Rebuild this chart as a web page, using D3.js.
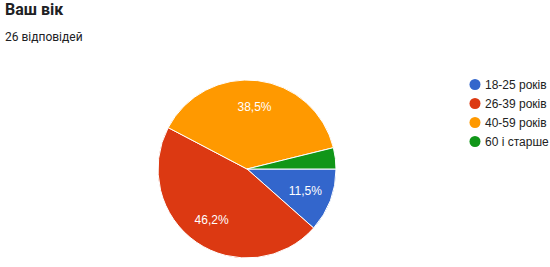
<!DOCTYPE html>
<html>
<head>
<meta charset="utf-8">
<script src="https://cdn.jsdelivr.net/npm/d3@7"></script>
<style>
  body { margin: 0; background: #fff; }
</style>
</head>
<body>
<div id="viz"></div>
<script>
// data
const title = 'Ваш вік';
const subtitle = '26 відповідей';
const categories = ['18-25 років', '26-39 років', '40-59 років', '60 і старше'];
const counts = [3, 12, 10, 1];
const colors = ['#3366cc', '#dc3912', '#ff9900', '#109618'];

const width = 550;
const height = 267;
const cx = 247;
const cy = 169;
const radius = 89;

let svg = d3
  .select('#viz')
  .append('svg')
  .attr('width', width)
  .attr('height', height);

// titles
svg
  .append('text')
  .attr('x', 5)
  .attr('y', 15)
  .attr('font-family', 'Roboto, Arial, sans-serif')
  .attr('font-weight', 'bold')
  .attr('font-size', 16)
  .attr('fill', '#202124')
  .text(title);

svg
  .append('text')
  .attr('x', 5)
  .attr('y', 41)
  .attr('font-family', 'Roboto, Arial, sans-serif')
  .attr('font-size', 12)
  .attr('fill', '#202124')
  .text(subtitle);

// pie
let total = d3.sum(counts);
let pie = d3
  .pie()
  .sort(null)
  .startAngle(Math.PI / 2)
  .endAngle(Math.PI / 2 + 2 * Math.PI);
let arcs = pie(counts);

let arc = d3.arc().innerRadius(0).outerRadius(radius);
let labelArc = d3.arc().innerRadius(radius * 0.7).outerRadius(radius * 0.7);

let g = svg.append('g').attr('transform', `translate(${cx},${cy})`);

g.selectAll('path')
  .data(arcs)
  .enter()
  .append('path')
  .attr('d', arc)
  .attr('fill', (d, i) => colors[i])
  .attr('stroke', '#fff')
  .attr('stroke-width', 1);

let fmt = (v) => (Math.round((v / total) * 1000) / 10).toFixed(1).replace('.', ',') + '%';

g.selectAll('text.lbl')
  .data(arcs.filter((d) => d.value / total > 0.05))
  .enter()
  .append('text')
  .attr('class', 'lbl')
  .attr('transform', (d) => `translate(${labelArc.centroid(d)})`)
  .attr('text-anchor', 'middle')
  .attr('dy', '0.35em')
  .attr('font-family', 'Arial, "Liberation Sans", sans-serif')
  .attr('font-size', 12)
  .attr('fill', '#fff')
  .text((d) => fmt(d.value));

// legend
let y = d3.scaleBand().range([75, 151]).domain(d3.range(categories.length));

let legend = svg
  .append('g')
  .selectAll('g')
  .data(categories)
  .enter()
  .append('g')
  .attr('transform', (d, i) => `translate(475,${y(i) + y.bandwidth() / 2})`);

legend
  .append('circle')
  .attr('r', 5.5)
  .attr('fill', (d, i) => colors[i]);

legend
  .append('text')
  .attr('x', 10)
  .attr('dy', '0.35em')
  .attr('font-family', 'Arial, "Liberation Sans", sans-serif')
  .attr('font-size', 12)
  .attr('fill', '#222')
  .text((d) => d);
</script>
</body>
</html>
